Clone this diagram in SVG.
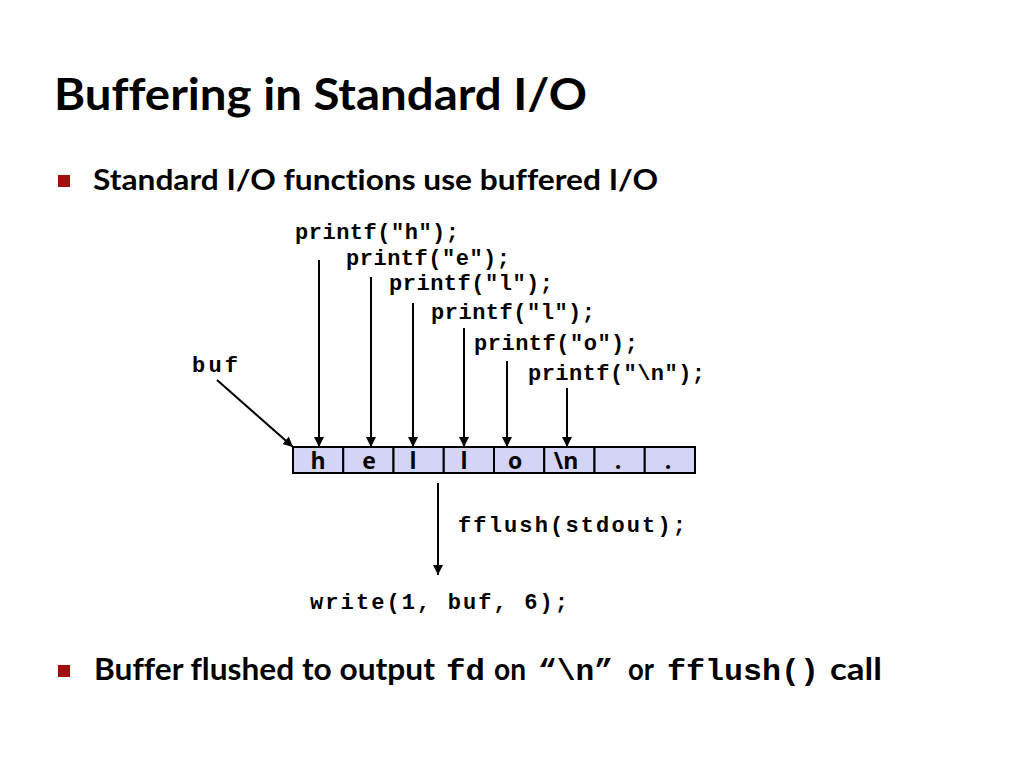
<svg xmlns="http://www.w3.org/2000/svg" width="1024" height="768" viewBox="0 0 1024 768">
<defs>
<marker id="ah" viewBox="0 0 10 10" refX="10" refY="5" markerWidth="10" markerHeight="10" markerUnits="userSpaceOnUse" orient="auto">
<path d="M0,0 L10,5 L0,10 z" fill="#000"/>
</marker>
<style>
.sans{font-family:Lato,"Open Sans","Liberation Sans",sans-serif;font-weight:bold;fill:#000;font-variant-ligatures:none}
.mono{font-family:"Liberation Mono","Courier New",monospace;font-weight:bold;fill:#000}
.code{font-size:22px}
.cell{fill:#d4d4f7;stroke:#000;stroke-width:2}
.cl{font-family:"Open Sans","Liberation Sans",sans-serif;font-weight:bold;font-size:23px;text-anchor:middle}
.arr{stroke:#000;stroke-width:2;fill:none;marker-end:url(#ah)}
.bullet{fill:#a00e0e}
</style>
</defs>
<rect width="1024" height="768" fill="#fff"/>
<g id="title"><text class="sans" x="54" y="110" font-size="44" textLength="533" lengthAdjust="spacingAndGlyphs">Buffering in Standard I/O</text></g>
<g id="bullet1"><rect class="bullet" x="58" y="175" width="12" height="12"/><text class="sans" x="93" y="190" font-size="28" textLength="565" lengthAdjust="spacingAndGlyphs">Standard I/O functions use buffered I/O</text></g>
<g id="printf-h"><text class="mono code" x="295" y="239" textLength="164">printf("h");</text></g>
<g id="printf-e"><text class="mono code" x="346" y="265" textLength="164">printf("e");</text></g>
<g id="printf-l1"><text class="mono code" x="389" y="290" textLength="164">printf("l");</text></g>
<g id="printf-l2"><text class="mono code" x="431" y="319" textLength="164">printf("l");</text></g>
<g id="printf-o"><text class="mono code" x="474" y="350" textLength="164">printf("o");</text></g>
<g id="printf-n"><text class="mono code" x="528" y="380" textLength="177">printf("\n");</text></g>
<g id="buf-label"><text class="mono code" x="192" y="372" textLength="46">buf</text></g>
<g id="buffer">
<rect class="cell" x="293" y="447" width="50.25" height="26"/>
<rect class="cell" x="343.25" y="447" width="50.25" height="26"/>
<rect class="cell" x="393.5" y="447" width="50.25" height="26"/>
<rect class="cell" x="443.75" y="447" width="50.25" height="26"/>
<rect class="cell" x="494" y="447" width="50.25" height="26"/>
<rect class="cell" x="544.25" y="447" width="50.25" height="26"/>
<rect class="cell" x="594.5" y="447" width="50.25" height="26"/>
<rect class="cell" x="644.75" y="447" width="50.25" height="26"/>
<text class="cl" x="318" y="469">h</text>
<text class="cl" x="369" y="469">e</text>
<text class="cl" x="413" y="469">l</text>
<text class="cl" x="464" y="469">l</text>
<text class="cl" x="515" y="469">o</text>
<text class="cl" x="566" y="469">\n</text>
<text class="cl" x="618" y="469">.</text>
<text class="cl" x="668" y="469">.</text>
</g>
<g id="fflush-label"><text class="mono code" x="458" y="532" textLength="228">fflush(stdout);</text></g>
<g id="write-label"><text class="mono code" x="310" y="609" textLength="258">write(1, buf, 6);</text></g>
<g id="bullet2"><rect class="bullet" x="58" y="665" width="12" height="12"/>
<text class="sans" x="94" y="680" font-size="30" textLength="341" lengthAdjust="spacingAndGlyphs">Buffer flushed to output</text>
<text class="mono" x="446" y="680" font-size="30" textLength="39" lengthAdjust="spacingAndGlyphs">fd</text>
<text class="sans" x="494" y="680" font-size="30" textLength="32" lengthAdjust="spacingAndGlyphs">on</text>
<text class="mono" x="538" y="680" font-size="30" textLength="75" lengthAdjust="spacingAndGlyphs">“\n”</text>
<text class="sans" x="628" y="680" font-size="30" textLength="26" lengthAdjust="spacingAndGlyphs">or</text>
<text class="mono" x="667" y="680" font-size="30" textLength="152" lengthAdjust="spacingAndGlyphs">fflush()</text>
<text class="sans" x="830" y="680" font-size="30" textLength="52" lengthAdjust="spacingAndGlyphs">call</text>
</g>
<g id="connectors">
<line class="arr" x1="319" y1="260" x2="319" y2="447"/>
<line class="arr" x1="371" y1="277" x2="371" y2="447"/>
<line class="arr" x1="413" y1="303" x2="413" y2="447"/>
<line class="arr" x1="464" y1="328" x2="464" y2="447"/>
<line class="arr" x1="507" y1="361" x2="507" y2="447"/>
<line class="arr" x1="567" y1="388" x2="567" y2="447"/>
<line class="arr" x1="217" y1="380" x2="293" y2="447"/>
<line class="arr" x1="438" y1="483" x2="438" y2="575"/>
</g>
</svg>
